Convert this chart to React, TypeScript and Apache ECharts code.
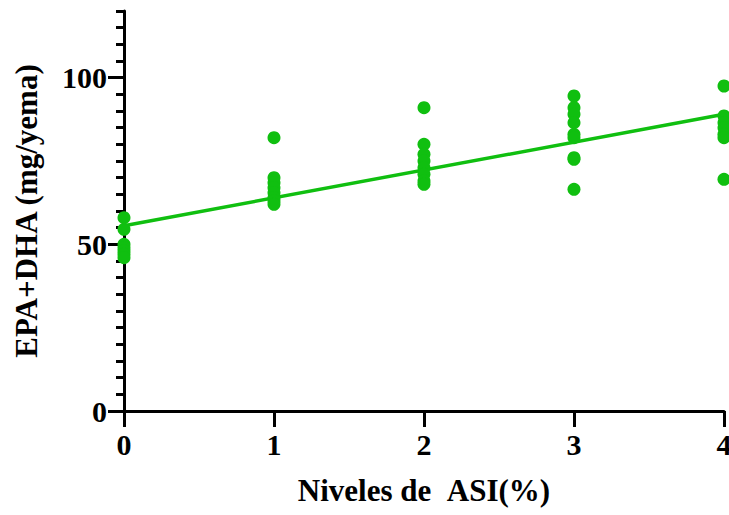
import React, { useEffect, useRef } from "react";
import * as echarts from "echarts";

const levels = [0, 1, 2, 3, 4];
const epaDha0 = [58, 54.5, 50, 49, 48, 47, 46];
const epaDha1 = [82, 70, 68.5, 67, 65.5, 64, 63, 62];
const epaDha2 = [91, 80, 77, 75, 73, 71, 69, 68];
const epaDha3 = [94.5, 91, 89, 86.5, 83, 82, 76, 75.5, 66.5];
const epaDha4 = [97.5, 88.5, 86.5, 85, 83, 82, 69.5];
const groups = [epaDha0, epaDha1, epaDha2, epaDha3, epaDha4];
const fitX = [0, 4];
const fitY = [55.6, 89.0];
const yTickLabels = ["0", "50", "100"];

const GREEN = "#10bf10";
const FONT = "'Liberation Serif', 'Times New Roman', serif";

export default function App() {
  const ref = useRef<HTMLDivElement>(null);
  useEffect(() => {
    if (!ref.current) return;
    const chart = echarts.init(ref.current, undefined, { renderer: "svg", width: 729, height: 515 });
    const points: number[][] = [];
    groups.forEach((g, i) => g.forEach((v) => points.push([levels[i], v])));
    const labelStyle = { fontFamily: FONT, fontWeight: "bold" as const, fontSize: 30, color: "#000" };
    const nameStyle = { ...labelStyle, fontSize: 31 };
    chart.setOption({
      animation: false,
      grid: [
        { left: 124, right: 5, top: 11, bottom: 104, containLabel: false, outerBoundsMode: "none" },
        { left: 124, right: 5, top: 77.67, bottom: 104, containLabel: false, outerBoundsMode: "none" },
      ],
      xAxis: [
        {
          gridIndex: 0,
          type: "value",
          min: 0,
          max: 4,
          interval: 1,
          name: "Niveles de \u00a0ASI(%)",
          nameLocation: "middle",
          nameGap: 64,
          nameTextStyle: nameStyle,
          axisLine: { lineStyle: { color: "#000", width: 3 } },
          axisTick: { length: 16, lineStyle: { color: "#000", width: 3 } },
          axisLabel: { ...labelStyle, margin: 18 },
          splitLine: { show: false },
        },
        {
          gridIndex: 1,
          type: "value",
          min: 0,
          max: 4,
          show: false,
        },
      ],
      yAxis: [
        {
          gridIndex: 0,
          type: "value",
          min: 0,
          max: 120,
          interval: 5,
          name: "EPA+DHA (mg/yema)",
          nameLocation: "middle",
          nameGap: 82,
          nameTextStyle: nameStyle,
          axisLine: { show: true, lineStyle: { color: "#000", width: 3 } },
          axisTick: { show: true, length: 8, lineStyle: { color: "#000", width: 3 } },
          axisLabel: { show: false },
          splitLine: { show: false },
        },
        {
          gridIndex: 1,
          type: "value",
          min: 0,
          max: 100,
          interval: 50,
          axisLine: { show: false },
          axisTick: { show: true, length: 16, lineStyle: { color: "#000", width: 3 } },
          axisLabel: {
            ...labelStyle,
            margin: 17,
            formatter: (v: number) => (yTickLabels.includes(String(v)) ? String(v) : ""),
          },
          splitLine: { show: false },
        },
      ],
      series: [
        {
          type: "line",
          xAxisIndex: 0,
          yAxisIndex: 0,
          data: fitX.map((x, i) => [x, fitY[i]]),
          showSymbol: false,
          symbol: "none",
          lineStyle: { color: GREEN, width: 3.5 },
          z: 3,
        },
        {
          type: "scatter",
          xAxisIndex: 0,
          yAxisIndex: 0,
          data: points,
          symbol: "circle",
          symbolSize: 13,
          itemStyle: { color: GREEN, opacity: 1 },
          clip: false,
          z: 4,
        },
      ],
    });
    return () => chart.dispose();
  }, []);
  return (
    <div
      ref={ref}
      style={{ position: "fixed", left: 0, top: 0, width: 729, height: 515, background: "#fff" }}
    />
  );
}
